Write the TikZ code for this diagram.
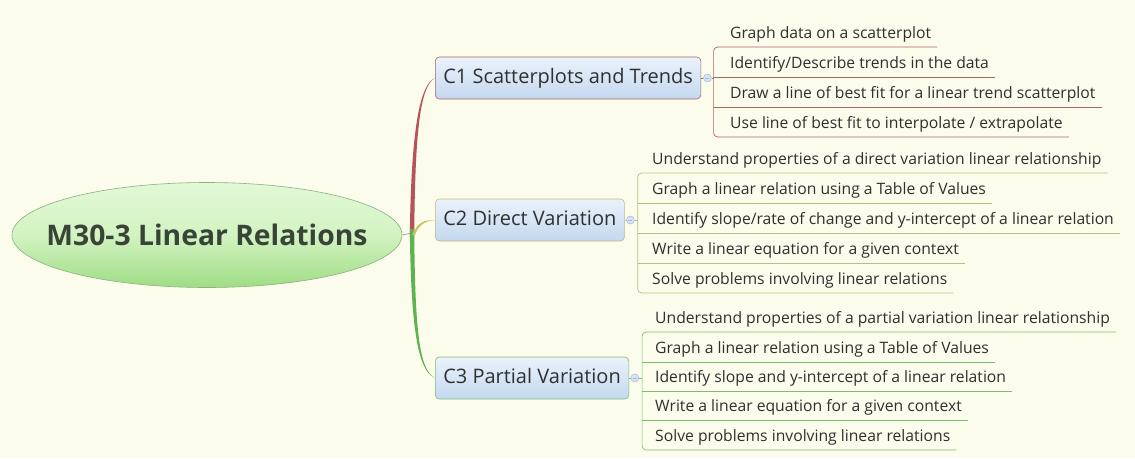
\documentclass[tikz,border=0pt]{standalone}
\usepackage{fontspec}
\setmainfont{Open Sans}
\usepackage{tikz}
\usetikzlibrary{positioning,calc,shapes.geometric}
\definecolor{paper}{HTML}{FBFCEB}
\definecolor{ink}{HTML}{303030}
\definecolor{rootink}{HTML}{374437}
\definecolor{rootedge}{HTML}{8DAF86}
\definecolor{roottop}{HTML}{E2F8D6}
\definecolor{rootmid}{HTML}{D3F3C2}
\definecolor{rootbot}{HTML}{9EDD84}
\definecolor{boxtop}{HTML}{EAF2FB}
\definecolor{boxbot}{HTML}{C4D8EF}
\definecolor{redline}{HTML}{A8665E}
\definecolor{redtrunk}{HTML}{B5525A}
\definecolor{oliveline}{HTML}{BDBE7C}
\definecolor{olivetrunk}{HTML}{C9C35C}
\definecolor{greenline}{HTML}{80BC70}
\definecolor{greentrunk}{HTML}{5DB34F}
\definecolor{markfill}{HTML}{D6E3F5}
\definecolor{markedge}{HTML}{A3B9DD}

\begin{document}
\begin{tikzpicture}[x=1pt, y=-1pt,
  every node/.style={text=ink},
  rootnode/.style={ellipse, draw=rootedge, line width=0.6pt, top color=roottop, bottom color=rootbot, middle color=rootmid, minimum width=390pt, minimum height=105pt, inner sep=0pt},
  roottext/.style={font=\fontsize{28.3}{34}\selectfont\bfseries, text=rootink},
  topic/.style={rectangle, rounded corners=4pt, top color=boxtop, bottom color=boxbot, line width=0.6pt, minimum height=42pt, inner xsep=8pt, text height=15pt, text depth=4.5pt, anchor=west, font=\fontsize{20}{24}\selectfont},
  marker/.style={circle, draw=markedge, fill=markfill, line width=0.5pt, minimum size=8pt, inner sep=0pt,
    path picture={\draw[markedge, line width=0.6pt] ([xshift=-2pt]path picture bounding box.center) -- ([xshift=2pt]path picture bounding box.center);}},
  leaf/.style={anchor=south west, inner xsep=6pt, inner ysep=5pt, text height=11.5pt, text depth=3.5pt, font=\fontsize{15.7}{18}\selectfont},
  tie/.style={line width=0.7pt, rounded corners=4pt}]
\useasboundingbox[fill=paper] (0,0) rectangle (1135,458);

% central topic
\node[rootnode, label={[roottext]center:M30-3 Linear Relations}] (root) at (207,235) {};
\coordinate (hub) at (412,233);

% main topics
\node[topic, draw=redline] (c1) at (435,78) {C1 Scatterplots and Trends};
\node[topic, draw=oliveline] (c2) at (435,220) {C2 Direct Variation};
\node[topic, draw=greenline] (c3) at (435,378) {C3 Partial Variation};

% trunks
\draw[line width=0.8pt, gray!70] (root.east) -- (hub);
\fill[redtrunk] ($(hub)+(-2.2,4)$) .. controls (411,140) and (418,85) .. (c1.west)
  .. controls (419,86) and (415,140) .. ($(hub)+(2.2,4)$) -- cycle;
\fill[greentrunk] ($(hub)+(-2.2,-4)$) .. controls (411,330) and (418,371) .. (c3.west)
  .. controls (419,370) and (415,330) .. ($(hub)+(2.2,-4)$) -- cycle;
\fill[olivetrunk] ($(hub)+(0,2)$) .. controls (418,222) and (424,220) .. (c2.west)
  .. controls (424,221) and (418,226) .. ($(hub)+(3,2)$) -- cycle;

% collapse markers
\node[marker, right=2pt of c1] (m1) {};
\node[marker, right=1.5pt of c2] (m2) {};
\node[marker, right=1.5pt of c3] (m3) {};
\coordinate[right=2pt of m1] (b1);
\coordinate[right=3pt of m2] (b2);
\coordinate[right=3pt of m3] (b3);
\draw[redline, line width=0.6pt] (c1.east) -- (m1) -- (b1);
\draw[oliveline, line width=0.6pt] (c2.east) -- (m2) -- (b2);
\draw[greenline, line width=0.6pt] (c3.east) -- (m3) -- (b3);

% C1 subtopics
\node[leaf] (l11) at (724,47) {Graph data on a scatterplot};
\node[leaf] (l12) at (724,77) {Identify/Describe trends in the data};
\node[leaf] (l13) at (724,107) {Draw a line of best fit for a linear trend scatterplot};
\node[leaf] (l14) at (724,137) {Use line of best fit to interpolate / extrapolate};
\draw[tie, redline] (l11.south east) -- (b1 |- l11.south) -- (b1 |- l14.south) -- (l14.south east);
\draw[tie, redline] (b1 |- l12.south) -- (l12.south east);
\draw[tie, redline] (b1 |- l13.south) -- (l13.south east);

% C2 subtopics
\node[leaf] (l21) at (646,173) {Understand properties of a direct variation linear relationship};
\node[leaf] (l22) at (646,203) {Graph a linear relation using a Table of Values};
\node[leaf] (l23) at (646,233) {Identify slope/rate of change and y-intercept of a linear relation};
\node[leaf] (l24) at (646,263) {Write a linear equation for a given context};
\node[leaf] (l25) at (646,293) {Solve problems involving linear relations};
\draw[tie, oliveline] (l21.south east) -- (b2 |- l21.south) -- (b2 |- l25.south) -- (l25.south east);
\foreach \n in {l22,l23,l24}
  \draw[tie, oliveline] (b2 |- \n.south) -- (\n.south east);

% C3 subtopics
\node[leaf] (l31) at (649,332) {Understand properties of a partial variation linear relationship};
\node[leaf] (l32) at (649,362) {Graph a linear relation using a Table of Values};
\node[leaf] (l33) at (649,391) {Identify slope and y-intercept of a linear relation};
\node[leaf] (l34) at (649,420) {Write a linear equation for a given context};
\node[leaf] (l35) at (649,450) {Solve problems involving linear relations};
\draw[tie, greenline] (l31.south east) -- (b3 |- l31.south) -- (b3 |- l35.south) -- (l35.south east);
\foreach \n in {l32,l33,l34}
  \draw[tie, greenline] (b3 |- \n.south) -- (\n.south east);
\end{tikzpicture}
\end{document}
